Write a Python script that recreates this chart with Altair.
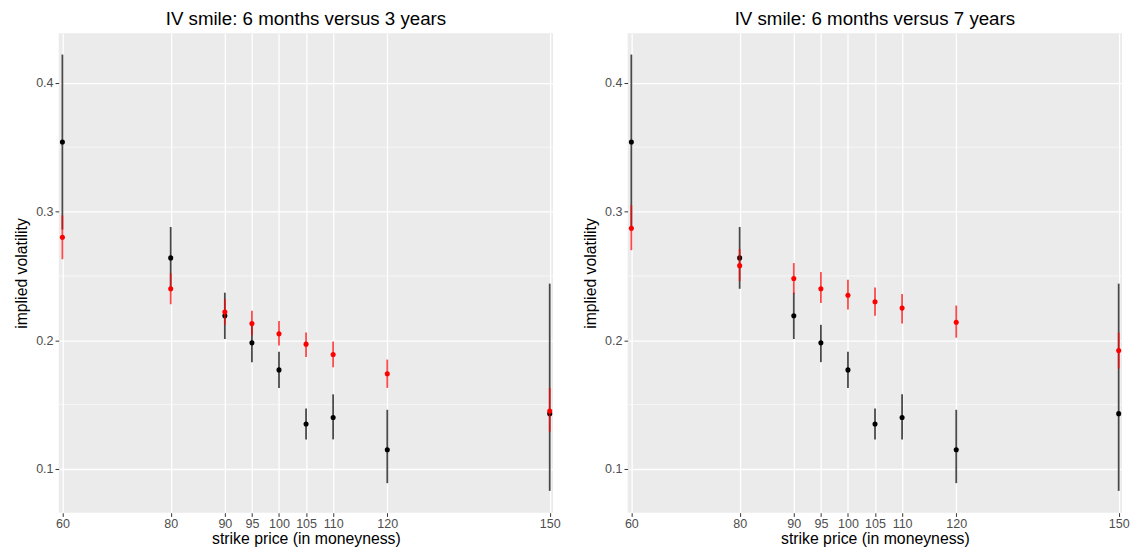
import altair as alt
import pandas as pd

# ---- data ----
strikes = [60, 80, 90, 95, 100, 105, 110, 120, 150]
tick_values_x = [60, 80, 90, 95, 100, 105, 110, 120, 150]
tick_values_y = [0.1, 0.2, 0.3, 0.4]
minor_y = [0.15, 0.25, 0.35]

iv_6m = [0.354, 0.264, 0.219, 0.198, 0.177, 0.135, 0.140, 0.115, 0.143]
iv_6m_lo = [0.286, 0.240, 0.201, 0.183, 0.163, 0.123, 0.123, 0.089, 0.083]
iv_6m_hi = [0.422, 0.288, 0.237, 0.212, 0.191, 0.147, 0.158, 0.146, 0.244]

iv_3y = [0.280, 0.240, 0.222, 0.213, 0.205, 0.197, 0.189, 0.174, 0.145]
iv_3y_lo = [0.263, 0.228, 0.212, 0.204, 0.196, 0.187, 0.179, 0.163, 0.129]
iv_3y_hi = [0.297, 0.252, 0.232, 0.223, 0.215, 0.206, 0.199, 0.185, 0.163]

iv_7y = [0.287, 0.258, 0.248, 0.240, 0.235, 0.230, 0.225, 0.214, 0.192]
iv_7y_lo = [0.270, 0.246, 0.236, 0.229, 0.224, 0.219, 0.213, 0.202, 0.178]
iv_7y_hi = [0.305, 0.271, 0.260, 0.253, 0.247, 0.241, 0.236, 0.227, 0.206]

titles = ["IV smile: 6 months versus 3 years", "IV smile: 6 months versus 7 years"]

FONT = "Liberation Sans"
X_DOMAIN = [59.32, 150.62]
Y_DOMAIN = [0.066, 0.4385]


def series_df(v, lo, hi):
    return pd.DataFrame({"strike": strikes, "iv": v, "lo": lo, "hi": hi})


def panel(title, other_v, other_lo, other_hi):
    xs = alt.Scale(domain=X_DOMAIN, nice=False, zero=False)
    ys = alt.Scale(domain=Y_DOMAIN, nice=False, zero=False)
    xax = alt.Axis(values=tick_values_x, title="strike price (in moneyness)", labelFlush=False)
    yax = alt.Axis(values=tick_values_y, format=".1f", title="implied volatility")

    minor = alt.Chart(pd.DataFrame({"m": minor_y})).mark_rule(
        color="white", strokeWidth=0.6
    ).encode(y=alt.Y("m:Q", scale=ys, axis=yax))

    base6 = alt.Chart(series_df(iv_6m, iv_6m_lo, iv_6m_hi))
    baseO = alt.Chart(series_df(other_v, other_lo, other_hi))

    bars6 = base6.mark_rule(color="black", strokeWidth=1.8, opacity=0.7).encode(
        x=alt.X("strike:Q", scale=xs, axis=xax),
        y=alt.Y("lo:Q", scale=ys, axis=yax),
        y2="hi:Q",
    )
    pts6 = base6.mark_circle(color="black", size=26, opacity=1).encode(
        x=alt.X("strike:Q", scale=xs, axis=xax),
        y=alt.Y("iv:Q", scale=ys, axis=yax),
    )
    barsO = baseO.mark_rule(color="red", strokeWidth=1.8, opacity=0.7).encode(
        x=alt.X("strike:Q", scale=xs, axis=xax),
        y=alt.Y("lo:Q", scale=ys, axis=yax),
        y2="hi:Q",
    )
    ptsO = baseO.mark_circle(color="red", size=26, opacity=1).encode(
        x=alt.X("strike:Q", scale=xs, axis=xax),
        y=alt.Y("iv:Q", scale=ys, axis=yax),
    )
    return alt.layer(minor, bars6, pts6, barsO, ptsO).properties(
        width=497,
        height=482,
        title=alt.TitleParams(
            text=title, fontSize=18.8, font=FONT, fontWeight="normal",
            color="black", anchor="middle", offset=5,
        ),
    )


chart = alt.hconcat(
    panel(titles[0], iv_3y, iv_3y_lo, iv_3y_hi),
    panel(titles[1], iv_7y, iv_7y_lo, iv_7y_hi),
    spacing=21,
).configure(
    background="white",
    padding={"left": 5, "top": 0, "right": 0, "bottom": 0},
).configure_view(
    fill="#EBEBEB", strokeWidth=0
).configure_axis(
    grid=True,
    gridColor="white",
    gridWidth=1.3,
    domain=False,
    tickColor="#333333",
    tickSize=3.7,
    tickWidth=1,
    labelColor="#4D4D4D",
    labelFont=FONT,
    labelFontSize=12.6,
    titleFont=FONT,
    titleFontSize=15.9,
    titleFontWeight="normal",
    titleColor="black",
).configure_axisX(
    labelPadding=1,
    titlePadding=1,
).configure_axisY(
    labelPadding=2,
    titlePadding=6.5,
)

chart.save("out.html", embed_options={"renderer": "svg", "actions": False})
